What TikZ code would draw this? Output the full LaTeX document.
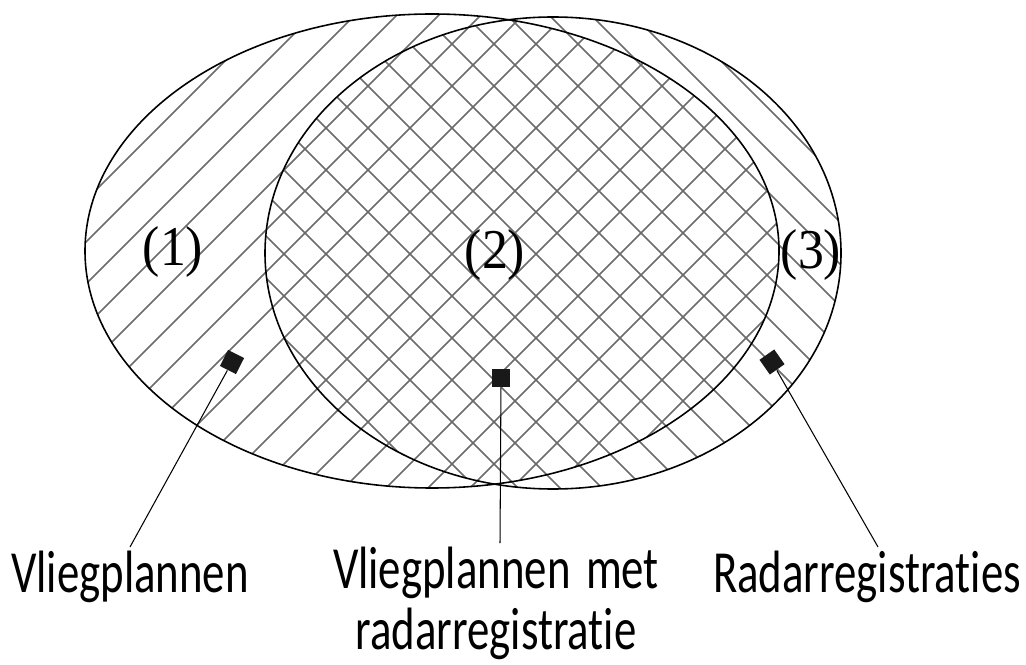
\documentclass[tikz,border=0pt]{standalone}
\usepackage{fontspec}
\setmainfont{Liberation Serif}
\newfontfamily\calfont[Ligatures=NoCommon]{Carlito}
\usetikzlibrary{positioning}

\newcommand{\narrow}[1]{\scalebox{0.75}[1]{#1}}

\begin{document}
\begin{tikzpicture}[
    hatch/.style={line width=0.42pt, black!58},
    outline/.style={draw, line width=0.45pt},
    marker/.style={fill=black!90, minimum size=0.18cm, inner sep=0pt},
    region/.style={font=\fontsize{16}{18}\selectfont},
    lbl/.style={font=\calfont\fontsize{17}{17.4}\selectfont, align=center, inner sep=1pt, anchor=north},
    leader/.style={line width=0.3pt},
]
\useasboundingbox (0,0) rectangle (10.26,6.64);

% Hatching: flight plans
\begin{scope}
\clip (4.32,4.13) ellipse [x radius=3.47, y radius=2.37];
\foreach \c in {-6.3,-5.88,...,6.3}
  \draw[hatch] (0,\c) -- (10.26,{10.26+(\c)});
\end{scope}

% Hatching: radar registrations
\begin{scope}
\clip (5.53,4.11) ellipse [x radius=2.88, y radius=2.36];
\foreach \c in {4.0,4.42,...,15.4}
  \draw[hatch] (0,\c) -- (10.26,{\c-10.26});
\end{scope}

% Outlines
\draw[outline] (4.32,4.13) ellipse [x radius=3.47, y radius=2.37];
\draw[outline] (5.53,4.11) ellipse [x radius=2.88, y radius=2.36];

% Region numbers
\node[region] (n1) at (1.73,4.12) {\scalebox{0.92}[1]{(1)}};
\node[region] (n2) at (4.95,4.09) {\scalebox{0.92}[1]{(2)}};
\node[region] (n3) at (8.11,4.09) {\scalebox{0.92}[1]{(3)}};

% Markers
\node[marker, rotate=-27] (m1) at (2.32,3.02) {};
\node[marker] (m2) at (5.01,2.86) {};
\node[marker, rotate=35] (m3) at (7.72,3.02) {};

% Labels
\node[lbl] (l1) at (1.30,1.17) {\narrow{Vliegplannen}};
\node[lbl] (l2) at (4.96,1.21) {\narrow{Vliegplannen\hspace{0.12em} met}\\\narrow{radarregistratie}};
\node[lbl] (l3) at (8.67,1.17) {\narrow{Radarregistraties}};

% Leaders
\draw[leader] (m1) -- (l1.north);
\draw[leader] (m2) -- ([xshift=0.4mm]l2.north);
\draw[leader] (m3) -- ([xshift=1.1mm]l3.north);

\end{tikzpicture}
\end{document}
